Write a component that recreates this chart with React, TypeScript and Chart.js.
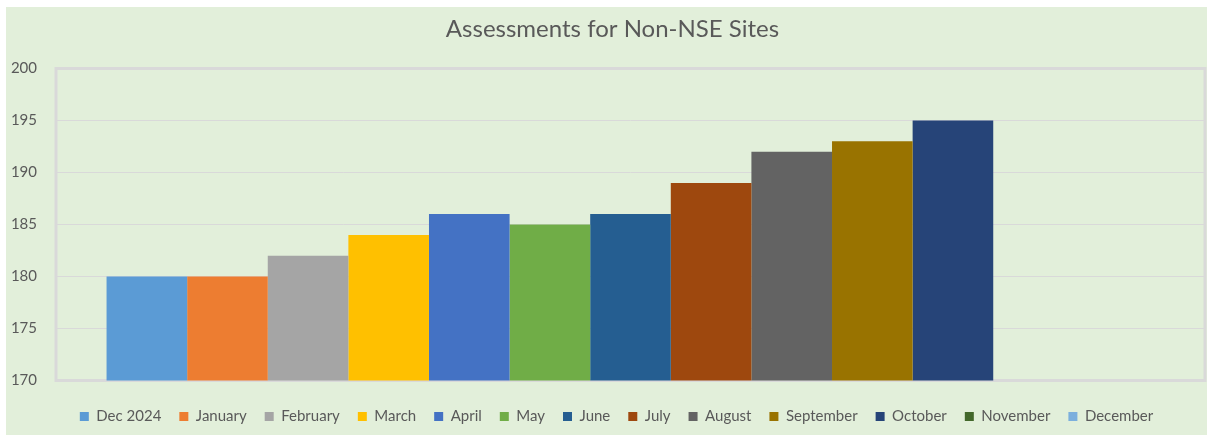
import React, { useEffect, useRef } from "react";
import { Chart, registerables } from "chart.js";

Chart.register(...registerables);

const chartTitle = "Assessments for Non-NSE Sites";
const seriesNames = [
  "Dec 2024", "January", "February", "March", "April", "May", "June",
  "July", "August", "September", "October", "November", "December",
];
const seriesValues: (number | null)[] = [
  180, 180, 182, 184, 186, 185, 186, 189, 192, 193, 195, null, null,
];
const seriesColors = [
  "#5B9BD5", "#ED7D31", "#A5A5A5", "#FFC000", "#4472C4", "#70AD47", "#255E91",
  "#9E480E", "#636363", "#997300", "#264478", "#43682B", "#7CAFDD",
];
const yMin = 170;
const yMax = 200;
const yStep = 5;

const FONT = "Lato, 'Open Sans', sans-serif";
const TEXT = "#595959";

const boxPlugin = {
  id: "plotBox",
  afterLayout(chart: any) {
    const lg = chart.legend;
    if (lg) {
      lg.left += 11;
      lg.right += 11;
    }
    const tb = chart.titleBlock;
    if (tb) {
      tb.left += 7;
      tb.right += 7;
    }
  },
  beforeDatasetsDraw(chart: any) {
    const { ctx, chartArea } = chart;
    ctx.save();
    ctx.strokeStyle = "#D9D9D9";
    ctx.lineWidth = 3;
    ctx.strokeRect(chartArea.left, chartArea.top, chartArea.right - chartArea.left, chartArea.bottom - chartArea.top);
    ctx.restore();
  },
};

export default function App() {
  const ref = useRef<HTMLCanvasElement | null>(null);
  useEffect(() => {
    if (!ref.current) return;
    const chart = new Chart(ref.current, {
      type: "bar",
      data: {
        labels: [""],
        datasets: seriesNames.map((name, i) => ({
          label: name,
          data: [seriesValues[i]],
          backgroundColor: seriesColors[i],
          borderWidth: 0,
        })),
      },
      options: {
        animation: false,
        responsive: true,
        maintainAspectRatio: false,
        layout: { padding: { left: 0, right: 2, top: 0, bottom: 1 } },
        datasets: { bar: { categoryPercentage: 0.912, barPercentage: 1 } },
        plugins: {
          title: {
            display: true,
            text: chartTitle,
            color: TEXT,
            font: { family: FONT, size: 24, weight: "normal" },
            padding: { top: 7.6, bottom: 25.1 },
          },
          legend: {
            position: "bottom",
            labels: {
              color: TEXT,
              font: { family: FONT, size: 15 },
              boxWidth: 9,
              boxHeight: 9,
              padding: 18,
            },
          },
          tooltip: { enabled: false },
        },
        scales: {
          x: {
            grid: { display: false },
            border: { display: false },
            ticks: { display: false },
            afterFit: (s: any) => { s.height = 10.5; },
          },
          y: {
            min: yMin,
            max: yMax,
            ticks: {
              stepSize: yStep,
              color: TEXT,
              font: { family: FONT, size: 15 },
              padding: 19,
            },
            grid: { color: "#D9D9D9", lineWidth: 1, drawTicks: false },
            border: { display: false },
            afterFit: (s: any) => { s.width = 50; },
          },
        },
      },
      plugins: [boxPlugin],
    });
    return () => chart.destroy();
  }, []);
  return (
    <div style={{ position: "absolute", left: 6, top: 7, width: 1201, height: 428, background: "#E2EFDA" }}>
      <canvas ref={ref} />
    </div>
  );
}
